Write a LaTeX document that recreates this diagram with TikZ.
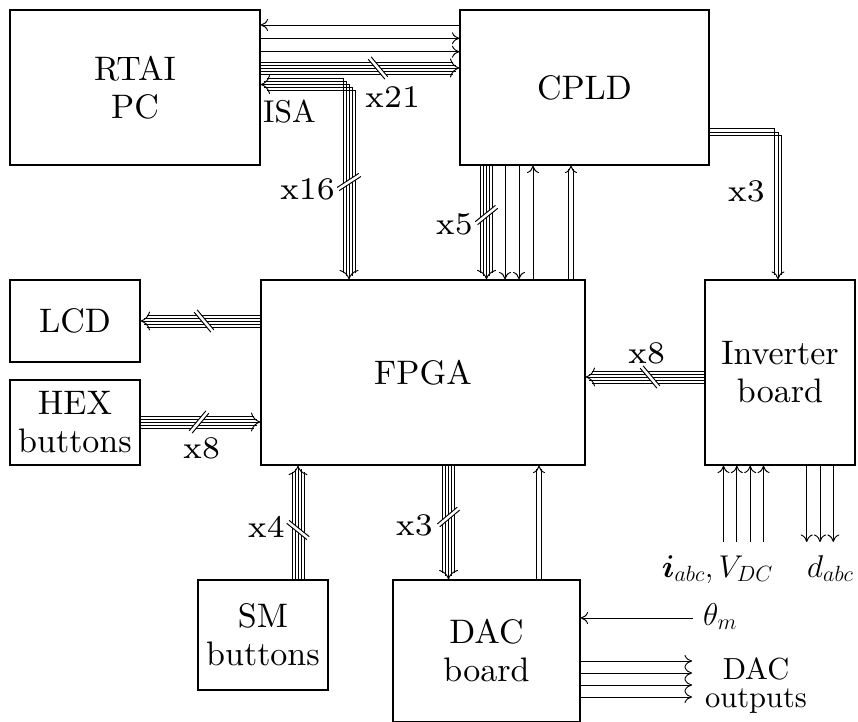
\RequirePackage{fix-cm}
\documentclass[tikz,border=0pt]{standalone}
\usepackage{amsmath,bm}
\usepackage{fontspec}
\setmainfont{lmroman10-regular}[Extension=.otf]
\newfontfamily\lmseven{lmroman7-regular}[Extension=.otf]
\usetikzlibrary{arrows.meta}
\tikzset{
  SigTip/.tip={Computer Modern Rightarrow[length=7.5pt,width=12pt]},
  BusTip/.tip={Computer Modern Rightarrow[length=9.5pt,width=19pt]},
  TriTip/.tip={Computer Modern Rightarrow[length=8pt,width=13pt]},
  sig/.style={line width=0.95pt},
  box/.style={draw, line width=1.15pt, inner sep=0pt, align=center, font=\fontsize{34}{38}\selectfont},
  lbl/.style={inner sep=0pt, font=\fontsize{31.5}{38}\selectfont},
  xlbl/.style={inner sep=0pt, font=\lmseven\fontsize{31.5}{38}\selectfont},
  busslash/.pic={
    \fill[white] (-1.9,-13) rectangle (1.9,13);
    \draw[line width=0.95pt] (-1.9,-13) -- (-1.9,13) (1.9,-13) -- (1.9,13);
  }
}
\newcommand\Bus[3]{%
  \foreach \o in {-6,-3,3,6}{%
    \pgfmathsetmacro\bshort{abs(\o)}%
    \draw[sig, shorten >=\bshort pt, transform canvas={#1=\o pt}] #2 -- #3;}%
  \draw[sig,-BusTip] #2 -- #3;}
\begin{document}
\begin{tikzpicture}[x=1pt,y=1pt]
\useasboundingbox (0,0) rectangle (858,721);
% boxes
\node[box, minimum width=250pt, minimum height=155pt] (rtai) at (135,633.5) {RTAI\\PC};
\node[box, minimum width=249pt, minimum height=155pt] (cpld) at (584.5,633.5) {CPLD};
\node[box, minimum width=130pt, minimum height=82pt] (lcd) at (75,400) {LCD};
\node[box, minimum width=130pt, minimum height=85pt] (hex) at (75,298.5) {HEX\\buttons};
\node[box, minimum width=324pt, minimum height=185pt] (fpga) at (423,348.5) {FPGA};
\node[box, minimum width=150pt, minimum height=185pt] (inv) at (780,348.5) {Inverter\\board};
\node[box, minimum width=130pt, minimum height=110pt] (sm) at (263,86) {SM\\buttons};
\node[box, minimum width=187pt, minimum height=142pt] (dac) at (486.5,70) {DAC\\board};

% RTAI <-> CPLD single lines
\draw[sig,-SigTip] (cpld.west |- 0,696) -- (rtai.east |- 0,696);
\draw[sig,-SigTip] (rtai.east |- 0,682.7) -- (cpld.west |- 0,682.7);
\draw[sig,-SigTip] (rtai.east |- 0,669.3) -- (cpld.west |- 0,669.3);

% straight buses
\Bus{yshift}{(rtai.east |- 0,653)}{(cpld.west |- 0,653)}
\Bus{xshift}{(486.5,0 |- cpld.south)}{(486.5,0 |- fpga.north)}
\Bus{yshift}{(fpga.west |- 0,400)}{(lcd.east |- 0,400)}
\Bus{yshift}{(hex.east |- 0,299)}{(fpga.west |- 0,299)}
\Bus{yshift}{(inv.west |- 0,344)}{(fpga.east |- 0,344)}
\Bus{xshift}{(298,0 |- sm.north)}{(298,0 |- fpga.south)}
\Bus{xshift}{(448.5,0 |- fpga.south)}{(448.5,0 |- dac.north)}

% ISA bent bus
\foreach \i in {-2,-1,1,2}{%
  \pgfmathsetmacro\yy{636.5-3*\i}%
  \pgfmathsetmacro\xx{349+3*\i}%
  \pgfmathsetmacro\bshort{3*abs(\i)}%
  \draw[sig, shorten <=\bshort pt, shorten >=\bshort pt] (rtai.east |- 0,\yy) -- (\xx,\yy) -- (\xx,0 |- fpga.north);}
\draw[sig, BusTip-BusTip] (rtai.east |- 0,636.5) -- (349,636.5) -- (349,0 |- fpga.north);

% CPLD -> Inverter triple line
\foreach \i in {-1,1}{%
  \pgfmathsetmacro\yy{589-3.3*\i}%
  \pgfmathsetmacro\xx{778+3.3*\i}%
  \pgfmathsetmacro\bshort{4*abs(\i)}%
  \draw[sig, shorten >=\bshort pt] (cpld.east |- 0,\yy) -- (\xx,\yy) -- (\xx,0 |- inv.north);}
\draw[sig,-TriTip] (cpld.east |- 0,589) -- (778,589) -- (778,0 |- inv.north);

% CPLD <-> FPGA singles
\foreach \x in {505,519} \draw[sig,-SigTip] (\x,0 |- cpld.south) -- (\x,0 |- fpga.north);
\draw[sig,-SigTip] (533,0 |- fpga.north) -- (533,0 |- cpld.south);

% doubles
\coordinate (d1s) at (571,0 |- fpga.north);
\coordinate (d1e) at (571,0 |- cpld.south);
\foreach \o in {-2.35,2.35} \draw[sig, shorten >=3pt, transform canvas={xshift=\o pt}] (d1s) -- (d1e);
\draw[sig,-SigTip] ([yshift=-1pt]d1e) -- (d1e);
\coordinate (d2s) at (539,0 |- dac.north);
\coordinate (d2e) at (539,0 |- fpga.south);
\foreach \o in {-2.35,2.35} \draw[sig, shorten >=3pt, transform canvas={xshift=\o pt}] (d2s) -- (d2e);
\draw[sig,-SigTip] ([yshift=-1pt]d2e) -- (d2e);

% inverter inputs / outputs
\coordinate (iin) at (743.5,179);
\foreach \dx in {-20,-6.67,6.67,20} \draw[sig,-SigTip, transform canvas={xshift=\dx pt}] (iin) -- (iin |- inv.south);
\coordinate (dout) at (820,179);
\foreach \dx in {-13.3,0,13.3} \draw[sig,-SigTip, transform canvas={xshift=\dx pt}] (dout |- inv.south) -- (dout);

% theta and DAC outputs
\coordinate (thetain) at (693,103);
\draw[sig,-SigTip] (thetain) -- (dac.east |- thetain);
\coordinate (dacout) at (692,42);
\foreach \dy in {18,6,-6,-18} \draw[sig,-SigTip, transform canvas={yshift=\dy pt}] (dac.east |- dacout) -- (dacout);

% slashes
\pic[rotate=40] at (378,653) {busslash};
\pic[rotate=-57] at (349,539) {busslash};
\pic[rotate=-51] at (486.5,506) {busslash};
\pic[rotate=40] at (204,400) {busslash};
\pic[rotate=-40] at (199,299) {busslash};
\pic[rotate=40] at (650,344) {busslash};
\pic[rotate=51] at (298,191) {busslash};
\pic[rotate=-50] at (448.5,204) {busslash};

% labels
\node[lbl, anchor=base west] (lisa) at (263,598) {ISA};
\node[xlbl, anchor=base west] (lx21) at (365,613) {x21};
\node[xlbl, anchor=base east] (lx16) at (335,521) {x16};
\node[xlbl, anchor=base east] (lx5) at (473,486) {x5};
\node[xlbl, anchor=base east] (lx3a) at (765,519) {x3};
\node[xlbl, anchor=base west] (lx8a) at (183,263) {x8};
\node[xlbl, anchor=base west] (lx8b) at (628,358) {x8};
\node[xlbl, anchor=base east] (lx4) at (285,184) {x4};
\node[xlbl, anchor=base east] (lx3b) at (433,186) {x3};
\node[lbl, anchor=base east] (liabc) at (773,144) {$\boldsymbol{i}_{abc}, V_{DC}$};
\node[lbl, anchor=base west] (ldabc) at (807,144) {$d_{abc}$};
\node[lbl, anchor=base west] (ltheta) at (703,96) {$\theta_m$};
\node[lbl, font=\fontsize{30.5}{36}\selectfont, anchor=base] (ldac) at (756,42) {DAC};
\node[lbl, font=\fontsize{30.5}{36}\selectfont, anchor=base] (louts) at (756,14) {outputs};
\end{tikzpicture}
\end{document}
